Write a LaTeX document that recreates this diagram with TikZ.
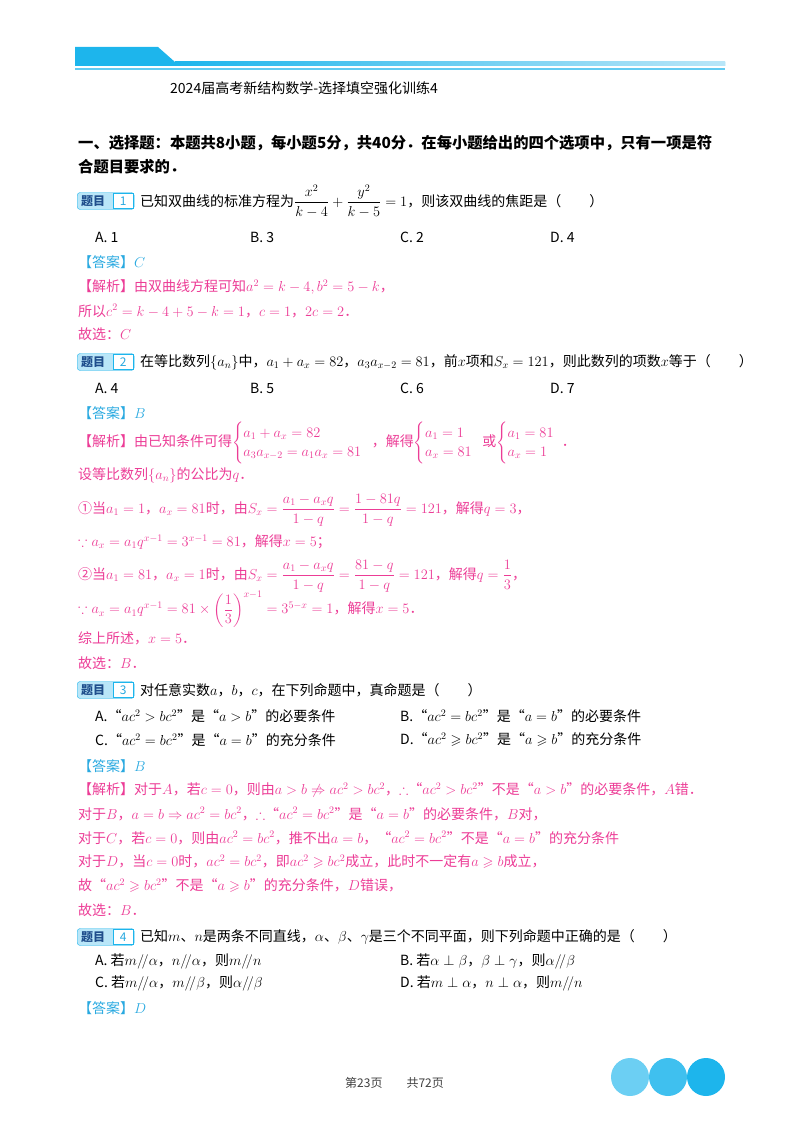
\documentclass[tikz,border=0pt]{standalone}
\usepackage{amsmath,amssymb}
\usepackage{fontspec}
\setmainfont{Noto Sans CJK SC}
\usetikzlibrary{calc}
\definecolor{cy}{HTML}{1DB5EC}
\definecolor{cyl}{HTML}{B9E6F8}
\definecolor{pk}{HTML}{EC3C96}
\definecolor{ans}{HTML}{29A9E0}
\definecolor{dk}{HTML}{1F4E8C}
\begin{document}
\begin{tikzpicture}[x=1pt,y=-1pt,
  t/.style={anchor=west,inner sep=0pt,font=\fontsize{14}{16}\selectfont},
  p/.style={t,text=pk},
  an/.style={t,text=ans},
  h/.style={anchor=west,inner sep=0pt,font=\fontsize{15.3}{17}\selectfont\bfseries},
  badge/.style={draw=cy,fill=cyl,rounded corners=3pt,minimum width=57pt,minimum height=17pt,anchor=west,inner sep=0pt},
  num/.style={draw=cy,fill=white,minimum width=20pt,minimum height=15pt,inner sep=0pt,text=ans,font=\fontsize{12}{14}\selectfont},
  dot/.style={circle,minimum size=38pt,inner sep=0pt}]
\useasboundingbox (0,0) rectangle (800,1132);
% header
\fill[cy] (75,47) -- (158,47) -- (175,62) -- (725,62) -- (725,66) -- (75,66) -- cycle;
\shade[left color=cy,right color=cyl] (175,62) rectangle (725,66);
\fill[cy!70] (75,68) rectangle (725,70);
\node[t,anchor=west,font=\fontsize{14}{16}\selectfont] (title) at (170,88) {2024届高考新结构数学-选择填空强化训练4};
\node[h] (s1) at (78,143) {一、选择题：本题共8小题，每小题5分，共40分．在每小题给出的四个选项中，只有一项是符};
\node[h] (s2) at (78,167) {合题目要求的．};
% Q1
\node[badge] (b1) at (77,201) {};
\node[anchor=west,inner sep=0pt,text=dk,font=\fontsize{12}{14}\selectfont\bfseries] (b1t) at (81,201) {题目};
\node[num,anchor=east] (n1) at ($(b1.east)+(-1,0)$) {1};
\node[t] (q1) at (140,201) {已知双曲线的标准方程为$\dfrac{x^2}{k-4}+\dfrac{y^2}{k-5}=1$，则该双曲线的焦距是（\quad\quad）};
\node[t] (q1a) at (95,237) {A.\ 1};
\node[t] (q1b) at (250,237) {B.\ 3};
\node[t] (q1c) at (400,237) {C.\ 2};
\node[t] (q1d) at (550,237) {D.\ 4};
\node[an] (a1) at (78,262) {【答案】$C$};
\node[p] (j1a) at (78,287) {【解析】由双曲线方程可知$a^2=k-4,b^2=5-k$，};
\node[p] (j1b) at (78,311) {所以$c^2=k-4+5-k=1$，$c=1$，$2c=2$．};
\node[p] (j1c) at (78,334) {故选：$C$};
% Q2
\node[badge] (b2) at (77,362) {};
\node[anchor=west,inner sep=0pt,text=dk,font=\fontsize{12}{14}\selectfont\bfseries] (b2t) at (81,362) {题目};
\node[num,anchor=east] (n2) at ($(b2.east)+(-1,0)$) {2};
\node[t] (q2) at (140,362) {在等比数列$\{a_n\}$中，$a_1+a_x=82$，$a_3a_{x-2}=81$，前$x$项和$S_x=121$，则此数列的项数$x$等于（\quad\quad）};
\node[t] (q2a) at (95,388) {A.\ 4};
\node[t] (q2b) at (250,388) {B.\ 5};
\node[t] (q2c) at (400,388) {C.\ 6};
\node[t] (q2d) at (550,388) {D.\ 7};
\node[an] (a2) at (78,413) {【答案】$B$};
\node[p] (j2a) at (78,443) {【解析】由已知条件可得$\begin{cases}a_1+a_x=82\\ a_3a_{x-2}=a_1a_x=81\end{cases}$\!\!，解得$\begin{cases}a_1=1\\ a_x=81\end{cases}$\!\!或$\begin{cases}a_1=81\\ a_x=1\end{cases}$\!\!\!．};
\node[p] (j2b) at (78,475) {设等比数列$\{a_n\}$的公比为$q$．};
\node[p] (j2c) at (78,510) {①当$a_1=1$，$a_x=81$时，由$S_x=\dfrac{a_1-a_xq}{1-q}=\dfrac{1-81q}{1-q}=121$，解得$q=3$，};
\node[p] (j2d) at (78,542) {$\because a_x=a_1q^{x-1}=3^{x-1}=81$，解得$x=5$；};
\node[p] (j2e) at (78,576) {②当$a_1=81$，$a_x=1$时，由$S_x=\dfrac{a_1-a_xq}{1-q}=\dfrac{81-q}{1-q}=121$，解得$q=\dfrac{1}{3}$，};
\node[p] (j2f) at (78,609) {$\because a_x=a_1q^{x-1}=81\times\left(\dfrac{1}{3}\right)^{x-1}=3^{5-x}=1$，解得$x=5$．};
\node[p] (j2g) at (78,638) {综上所述，$x=5$．};
\node[p] (j2h) at (78,663) {故选：$B$．};
% Q3
\node[badge] (b3) at (77,690) {};
\node[anchor=west,inner sep=0pt,text=dk,font=\fontsize{12}{14}\selectfont\bfseries] (b3t) at (81,690) {题目};
\node[num,anchor=east] (n3) at ($(b3.east)+(-1,0)$) {3};
\node[t] (q3) at (140,690) {对任意实数$a$，$b$，$c$，在下列命题中，真命题是（\quad\quad）};
\node[t] (q3a) at (95,716) {A.“$ac^2>bc^2$”是“$a>b$”的必要条件};
\node[t] (q3b) at (400,716) {B.“$ac^2=bc^2$”是“$a=b$”的必要条件};
\node[t] (q3c) at (95,740) {C.“$ac^2=bc^2$”是“$a=b$”的充分条件};
\node[t] (q3d) at (400,740) {D.“$ac^2\geqslant bc^2$”是“$a\geqslant b$”的充分条件};
\node[an] (a3) at (78,766) {【答案】$B$};
\node[p] (j3a) at (78,790) {【解析】对于$A$，若$c=0$，则由$a>b\not\Rightarrow ac^2>bc^2$，$\therefore$“$ac^2>bc^2$”不是“$a>b$”的必要条件，$A$错．};
\node[p] (j3b) at (78,814) {对于$B$，$a=b\Rightarrow ac^2=bc^2$，$\therefore$“$ac^2=bc^2$”是“$a=b$”的必要条件，$B$对，};
\node[p] (j3c) at (78,838) {对于$C$，若$c=0$，则由$ac^2=bc^2$，推不出$a=b$，“$ac^2=bc^2$”不是“$a=b$”的充分条件};
\node[p] (j3d) at (78,862) {对于$D$，当$c=0$时，$ac^2=bc^2$，即$ac^2\geqslant bc^2$成立，此时不一定有$a\geqslant b$成立，};
\node[p] (j3e) at (78,886) {故“$ac^2\geqslant bc^2$”不是“$a\geqslant b$”的充分条件，$D$错误，};
\node[p] (j3f) at (78,910) {故选：$B$．};
% Q4
\node[badge] (b4) at (77,937) {};
\node[anchor=west,inner sep=0pt,text=dk,font=\fontsize{12}{14}\selectfont\bfseries] (b4t) at (81,937) {题目};
\node[num,anchor=east] (n4) at ($(b4.east)+(-1,0)$) {4};
\node[t] (q4) at (140,937) {已知$m$、$n$是两条不同直线，$\alpha$、$\beta$、$\gamma$是三个不同平面，则下列命题中正确的是（\quad\quad）};
\node[t] (q4a) at (95,961) {A.\ 若$m/\!/\alpha$，$n/\!/\alpha$，则$m/\!/n$};
\node[t] (q4b) at (400,961) {B.\ 若$\alpha\perp\beta$，$\beta\perp\gamma$，则$\alpha/\!/\beta$};
\node[t] (q4c) at (95,983) {C.\ 若$m/\!/\alpha$，$m/\!/\beta$，则$\alpha/\!/\beta$};
\node[t] (q4d) at (400,983) {D.\ 若$m\perp\alpha$，$n\perp\alpha$，则$m/\!/n$};
\node[an] (a4) at (78,1008) {【答案】$D$};
% footer
\node[t,text=black!75,font=\fontsize{12}{14}\selectfont] (pg) at (345,1083) {第23页\qquad 共72页};
\node[dot,fill=cy!65] (c1) at (630,1077) {};
\node[dot,fill=cy!85] (c2) at (668,1077) {};
\node[dot,fill=cy] (c3) at (706,1077) {};
\end{tikzpicture}
\end{document}
